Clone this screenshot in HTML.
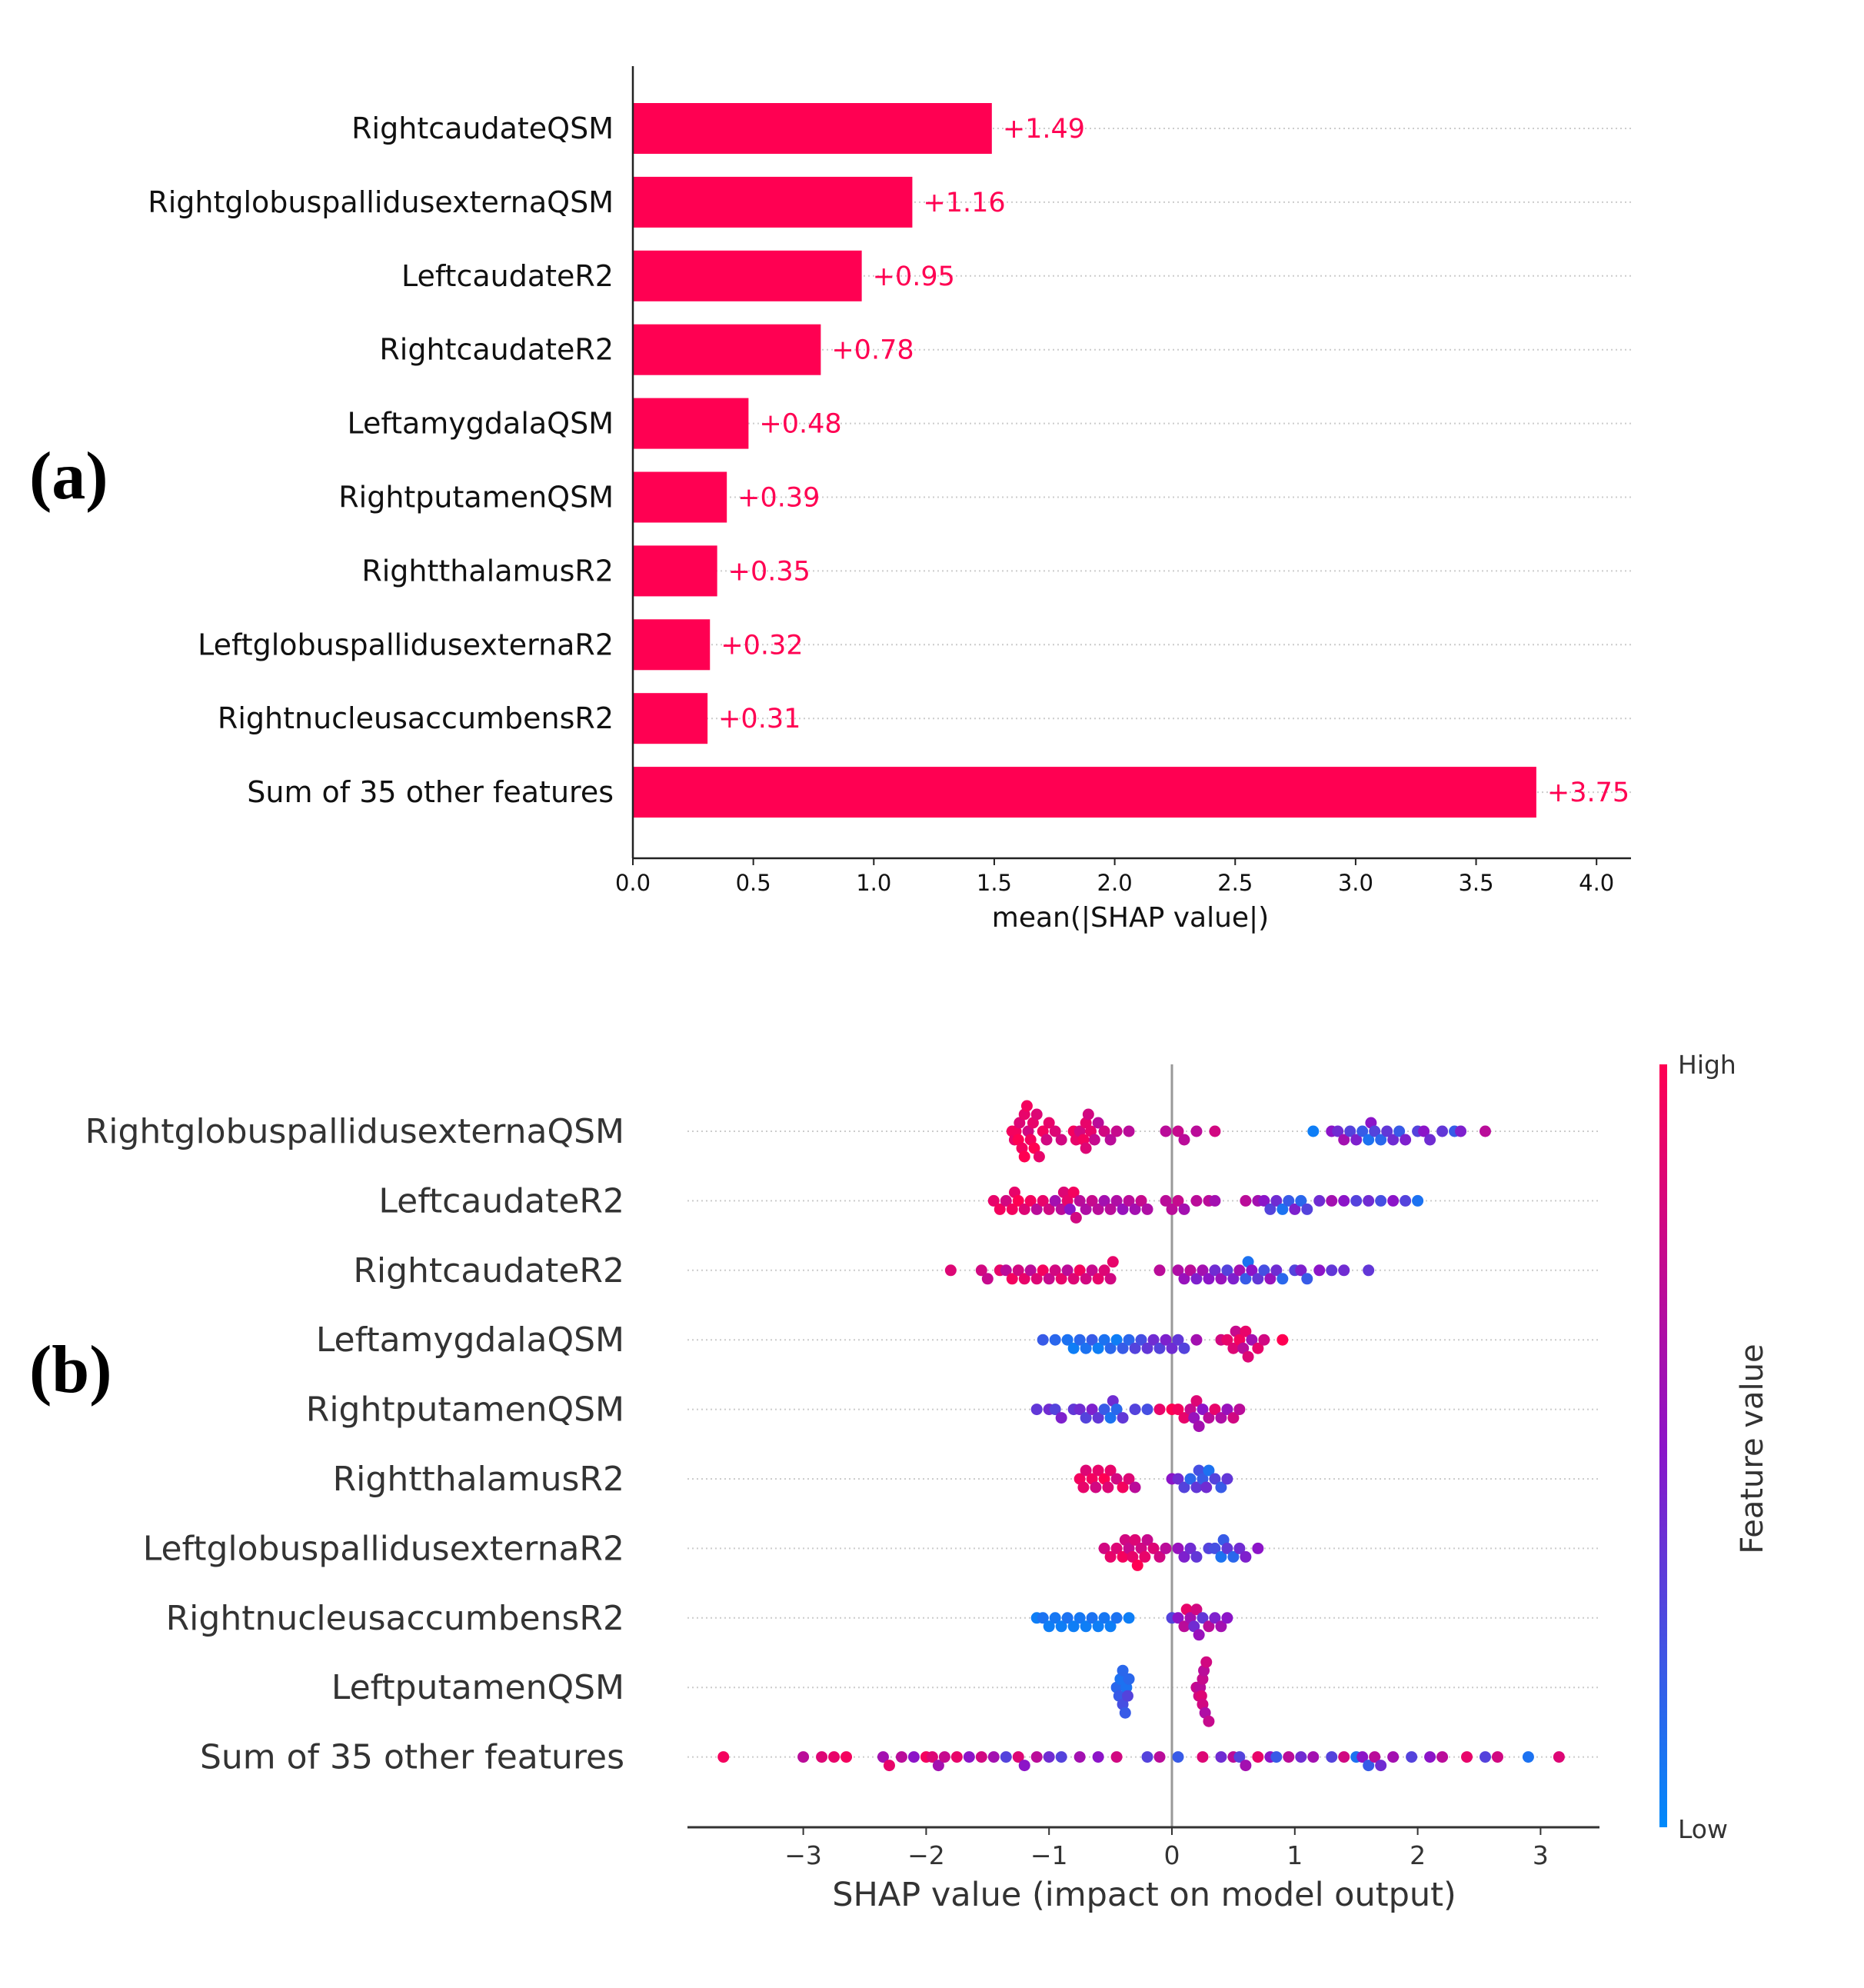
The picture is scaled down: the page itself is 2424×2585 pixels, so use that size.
<!DOCTYPE html>
<html><head><meta charset="utf-8"><style>
body{margin:0;background:#fff;}
svg text{font-family:"DejaVu Sans","Liberation Sans",sans-serif;}
</style></head><body>
<svg id="fig" width="2424" height="2580" viewBox="0 0 2424 2580" xmlns="http://www.w3.org/2000/svg">
<rect width="2424" height="2580" fill="#fff"/>
<text x="38" y="648" font-size="88" font-weight="bold" style="font-family:'Liberation Serif',serif">(a)</text>
<text x="38" y="1810" font-size="88" font-weight="bold" style="font-family:'Liberation Serif',serif">(b)</text>
<g id="barChart"></g>
<g id="swarmChart"></g>
</svg>
<script>
const barFeatures=["RightcaudateQSM","RightglobuspallidusexternaQSM","LeftcaudateR2","RightcaudateR2","LeftamygdalaQSM","RightputamenQSM","RightthalamusR2","LeftglobuspallidusexternaR2","RightnucleusaccumbensR2","Sum of 35 other features"];
const barValues=[1.49,1.16,0.95,0.78,0.48,0.39,0.35,0.32,0.31,3.75];
const barTicks=[0,0.5,1,1.5,2,2.5,3,3.5,4];

const swarmFeatures=["RightglobuspallidusexternaQSM","LeftcaudateR2","RightcaudateR2","LeftamygdalaQSM","RightputamenQSM","RightthalamusR2","LeftglobuspallidusexternaR2","RightnucleusaccumbensR2","LeftputamenQSM","Sum of 35 other features"];
const swarmTicks=[-3,-2,-1,0,1,2,3];
const shap0=[-1.3,-1.28,-1.27,-1.25,-1.24,-1.22,-1.2,-1.2,-1.18,-1.17,-1.15,-1.13,-1.12,-1.1,-1.08,-1.05,-1.02,-1.0,-0.95,-0.9,-0.8,-0.78,-0.75,-0.72,-0.7,-0.7,-0.68,-0.66,-0.63,-0.6,-0.55,-0.5,-0.45,-0.35,-0.05,0.05,0.1,0.2,0.35,1.15,1.3,1.35,1.4,1.45,1.5,1.55,1.6,1.62,1.65,1.7,1.75,1.8,1.85,1.9,2.0,2.05,2.1,2.2,2.3,2.35,2.55];
const feat0=[.95,.9,.95,1,.85,.95,.9,1,.95,.8,.95,.9,1,.85,.9,.95,.8,.9,.85,.8,.95,.9,.8,.95,.9,.85,.8,.9,.75,.7,.8,.7,.75,.7,.7,.75,.7,.7,.8,.05,.5,.4,.6,.3,.45,.2,.1,.5,.3,.15,.35,.4,.2,.45,.3,.5,.4,.35,.2,.45,.7];
const shap1=[-1.45,-1.4,-1.35,-1.3,-1.28,-1.25,-1.2,-1.15,-1.1,-1.05,-1.0,-0.95,-0.9,-0.88,-0.85,-0.83,-0.8,-0.78,-0.75,-0.7,-0.65,-0.6,-0.55,-0.5,-0.45,-0.4,-0.35,-0.3,-0.25,-0.2,-0.05,0.0,0.05,0.1,0.2,0.3,0.35,0.6,0.7,0.75,0.8,0.85,0.9,0.95,1.0,1.05,1.1,1.2,1.3,1.4,1.5,1.6,1.7,1.8,1.9,2.0];
const feat1=[.9,.95,.8,.95,.9,1,.85,.95,.7,.9,.8,.6,.7,.85,.9,.5,.95,.8,.7,.65,.75,.7,.6,.7,.65,.55,.7,.6,.75,.65,.7,.7,.75,.6,.7,.7,.6,.7,.6,.5,.3,.4,.1,.2,.45,.15,.3,.4,.6,.5,.3,.4,.25,.5,.3,.1];
const shap2=[-1.8,-1.55,-1.5,-1.4,-1.35,-1.3,-1.25,-1.2,-1.15,-1.1,-1.05,-1.0,-0.95,-0.9,-0.85,-0.8,-0.75,-0.7,-0.65,-0.6,-0.55,-0.5,-0.48,-0.1,0.05,0.1,0.15,0.2,0.25,0.3,0.35,0.4,0.45,0.5,0.55,0.6,0.62,0.65,0.7,0.75,0.8,0.85,0.9,1.0,1.05,1.1,1.2,1.3,1.4,1.6];
const feat2=[.85,.8,.75,.9,.7,.95,.8,.9,.7,.85,.95,.75,.8,.9,.7,.85,.95,.8,.75,.9,.85,.8,.9,.7,.65,.55,.7,.45,.6,.5,.4,.55,.3,.45,.6,.2,.1,.5,.35,.25,.55,.4,.15,.3,.45,.2,.5,.35,.4,.35];
const shap3=[-1.05,-0.95,-0.85,-0.8,-0.75,-0.7,-0.65,-0.6,-0.55,-0.5,-0.45,-0.4,-0.35,-0.3,-0.25,-0.2,-0.15,-0.1,-0.05,0.0,0.05,0.1,0.2,0.4,0.45,0.5,0.52,0.55,0.58,0.6,0.62,0.65,0.7,0.75,0.9];
const feat3=[.2,.15,.1,.05,.15,.1,.2,.05,.1,.15,.05,.2,.15,.3,.25,.35,.4,.3,.45,.4,.35,.3,.6,.8,.9,.85,.75,.95,.7,.9,.85,.6,.9,.8,1];
const shap4=[-1.1,-1.0,-0.95,-0.9,-0.8,-0.75,-0.7,-0.65,-0.6,-0.55,-0.5,-0.48,-0.45,-0.4,-0.3,-0.2,-0.1,0.0,0.05,0.1,0.15,0.18,0.2,0.22,0.25,0.3,0.35,0.4,0.45,0.5,0.55];
const feat4=[.35,.4,.3,.45,.35,.4,.3,.45,.35,.2,.1,.4,.15,.35,.3,.25,.9,1,.95,.9,.75,.55,.85,.6,.5,.7,.9,.65,.55,.8,.7];
const shap5=[-0.75,-0.72,-0.7,-0.65,-0.62,-0.6,-0.55,-0.52,-0.5,-0.45,-0.4,-0.35,-0.3,0.0,0.05,0.1,0.15,0.2,0.22,0.25,0.28,0.3,0.35,0.4,0.45];
const feat5=[.95,.9,.85,.95,.8,.9,1,.85,.9,.8,.95,.85,.7,.5,.4,.3,.15,.35,.25,.2,.4,.1,.3,.2,.35];
const shap6=[-0.55,-0.5,-0.45,-0.4,-0.38,-0.35,-0.32,-0.3,-0.28,-0.25,-0.22,-0.2,-0.15,-0.1,-0.05,0.05,0.1,0.15,0.2,0.3,0.35,0.4,0.42,0.45,0.5,0.55,0.6,0.7];
const feat6=[.8,.9,.85,.95,.8,.75,.9,.85,1,.8,.9,.75,.85,.8,.7,.55,.45,.4,.35,.3,.25,.1,.2,.35,.15,.4,.45,.5];
const shap7=[-1.1,-1.05,-1.0,-0.95,-0.9,-0.85,-0.8,-0.75,-0.7,-0.65,-0.6,-0.55,-0.5,-0.45,-0.35,0.0,0.05,0.1,0.12,0.15,0.18,0.2,0.22,0.25,0.3,0.35,0.4,0.45];
const feat7=[.05,.1,.05,.08,.05,.1,.05,.08,.05,.1,.05,.08,.05,.1,.05,.3,.5,.7,.9,.6,.4,.8,.55,.35,.7,.45,.6,.5];
const shap8=[-0.45,-0.43,-0.42,-0.4,-0.4,-0.38,-0.37,-0.36,-0.35,0.2,0.22,0.23,0.24,0.25,0.25,0.26,0.27,0.28,0.3];
const feat8=[.15,.2,.1,.25,.15,.2,.1,.3,.15,.75,.8,.7,.85,.75,.8,.7,.65,.8,.75];
const shap9=[-3.65,-3.0,-2.85,-2.75,-2.65,-2.35,-2.3,-2.2,-2.1,-2.0,-1.95,-1.9,-1.85,-1.75,-1.65,-1.55,-1.45,-1.35,-1.25,-1.2,-1.1,-1.0,-0.9,-0.75,-0.6,-0.45,-0.2,-0.1,0.05,0.25,0.4,0.5,0.55,0.6,0.7,0.8,0.85,0.95,1.05,1.15,1.3,1.4,1.5,1.55,1.6,1.65,1.7,1.8,1.95,2.1,2.2,2.4,2.55,2.65,2.9,3.15];
const feat9=[.95,.7,.85,.9,.95,.6,.9,.7,.5,.95,.85,.6,.75,.9,.5,.8,.6,.3,.85,.5,.7,.4,.3,.6,.5,.8,.3,.7,.2,.85,.4,.7,.3,.6,.9,.5,.2,.7,.4,.6,.3,.8,.1,.5,.2,.7,.4,.6,.3,.5,.7,.9,.3,.8,.1,.85];
const swarmShap=[shap0,shap1,shap2,shap3,shap4,shap5,shap6,shap7,shap8,shap9];
const swarmFeat=[feat0,feat1,feat2,feat3,feat4,feat5,feat6,feat7,feat8,feat9];

const NS="http://www.w3.org/2000/svg";
function mk(tag,attrs,parent,txt){const e=document.createElementNS(NS,tag);for(const k in attrs)e.setAttribute(k,attrs[k]);if(txt!==undefined)e.textContent=txt;parent.appendChild(e);return e;}

// ---- bar chart ----
const bg=document.getElementById('barChart');
const bx0=823, bUnit=313.3, bTop=86, bBot=1116, bRight=2121;
const bX=v=>bx0+v*bUnit;
const bY=i=>167+i*95.9;
const RED="#ff0052";
barFeatures.forEach((f,i)=>{
  const y=bY(i);
  let g=mk('line',{x1:bx0,x2:bRight,y1:y,y2:y,stroke:'#ccc','stroke-width':2,'stroke-dasharray':'2,4'},bg);
  
  
  let r=mk('rect',{x:bx0,y:y-33,width:bX(barValues[i])-bx0,height:66,fill:RED},bg);
  
  
  let t=mk('text',{x:bX(barValues[i])+14,y:y+12,'font-size':35,fill:RED},bg,'+'+barValues[i].toFixed(2));
  
  
  let l=mk('text',{x:798,y:y+13,'font-size':38,fill:'#111','text-anchor':'end'},bg,f);
  
  
});
let ax=mk('line',{x1:bx0,x2:bx0,y1:bTop,y2:bBot,stroke:'#222','stroke-width':2.5},bg);


let axb=mk('line',{x1:bx0,x2:bRight,y1:bBot,y2:bBot,stroke:'#222','stroke-width':2.5},bg);


barTicks.forEach(v=>{
  let tk=mk('line',{x1:bX(v),x2:bX(v),y1:bBot,y2:bBot+9,stroke:'#222','stroke-width':2},bg);
  
  
  let tl=mk('text',{x:bX(v),y:bBot+42,'font-size':29,fill:'#111','text-anchor':'middle'},bg,v.toFixed(1));
  
  
});
let bt=mk('text',{x:1470,y:1205,'font-size':36,fill:'#111','text-anchor':'middle'},bg,'mean(|SHAP value|)');



// ---- beeswarm ----
const sg=document.getElementById('swarmChart');
const sx0=1524, sUnit=159.8, sTop=1384, sBot=2376;
const sX=v=>sx0+v*sUnit;
const sY=i=>1471+i*90.4;
function col(c){const a=[0,138,251],b=[255,0,82],m=[140,20,200];
  let r;if(c<0.5){const t=c*2;r=a.map((v,k)=>v+(m[k]-v)*t);}else{const t=(c-0.5)*2;r=m.map((v,k)=>v+(b[k]-v)*t);}
  return 'rgb('+r.map(Math.round).join(',')+')';}
swarmFeatures.forEach((f,i)=>{
  const y=sY(i);
  let g=mk('line',{x1:894,x2:2080,y1:y,y2:y,stroke:'#ccc','stroke-width':2,'stroke-dasharray':'2,4'},sg);
  
  
  let l=mk('text',{x:812,y:y+15,'font-size':44,fill:'#333','text-anchor':'end'},sg,f);
  
  
});
let zl=mk('line',{x1:sx0,x2:sx0,y1:sTop,y2:sBot,stroke:'#999','stroke-width':3},sg);


swarmFeatures.forEach((f,i)=>{
  const y=sY(i);const vals=swarmShap[i],fv=swarmFeat[i];
  const bins={};
  vals.forEach((v,j)=>{
    const b=Math.round(sX(v)/16);bins[b]=(bins[b]||0)+1;const n=bins[b]-1;
    const off=(n===0?0:(n%2?1:-1)*Math.ceil(n/2))*11;
    let d=mk('circle',{cx:sX(v),cy:y+Math.max(-44,Math.min(44,off)),r:7.5,fill:col(fv[j])},sg);
    
    
  });
});
let sa=mk('line',{x1:894,x2:2080,y1:sBot,y2:sBot,stroke:'#333','stroke-width':3},sg);


swarmTicks.forEach(v=>{
  let tk=mk('line',{x1:sX(v),x2:sX(v),y1:sBot,y2:sBot+10,stroke:'#333','stroke-width':2},sg);
  
  
  let tl=mk('text',{x:sX(v),y:sBot+48,'font-size':33,fill:'#333','text-anchor':'middle'},sg,(v<0?'\u2212'+(-v):''+v));
  
  
});
let st=mk('text',{x:1488,y:2478,'font-size':43,fill:'#333','text-anchor':'middle'},sg,'SHAP value (impact on model output)');


// colorbar
const defs=mk('defs',{},sg);
const lg=mk('linearGradient',{id:'cb',x1:0,y1:0,x2:0,y2:1},defs);
[0,0.5,1].forEach(o=>mk('stop',{offset:o,'stop-color':col(1-o)},lg));
let cb=mk('rect',{x:2158,y:sTop,width:10,height:sBot-sTop,fill:'url(#cb)'},sg);


let hi=mk('text',{x:2182,y:sTop+12,'font-size':33,fill:'#333'},sg,'High');


let lo=mk('text',{x:2182,y:sBot+14,'font-size':33,fill:'#333'},sg,'Low');


let fvt=mk('text',{x:2292,y:1884,'font-size':40,fill:'#333','text-anchor':'middle',transform:'rotate(-90 2292 1884)'},sg,'Feature value');


</script>
</body></html>
